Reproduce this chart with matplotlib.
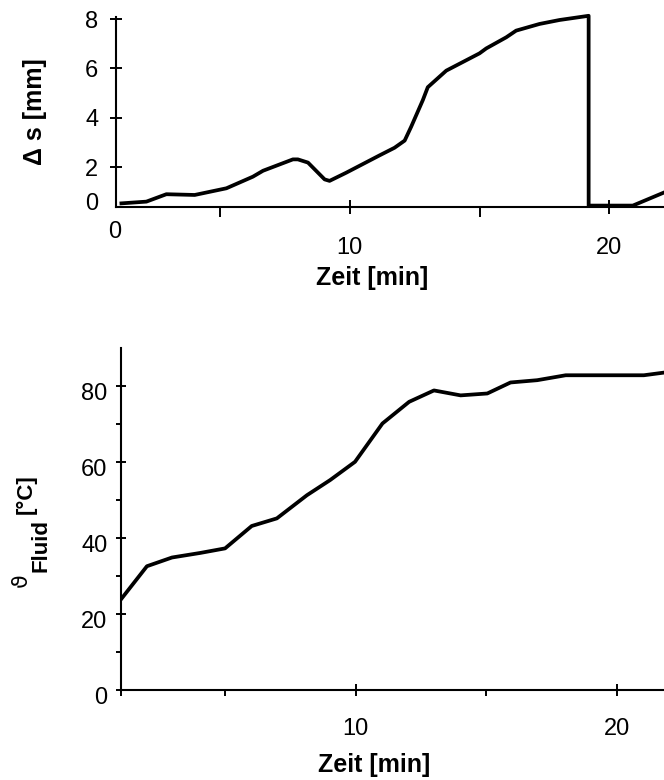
import matplotlib
matplotlib.use("Agg")
import matplotlib.pyplot as plt
import matplotlib.transforms as mtransforms

# ---------------- data ----------------
# top chart: displacement over time
t_top = [1.22, 2.18, 2.95, 4.04, 5.26, 6.28, 6.67, 7.82, 8.01, 8.40, 9.04, 9.23,
         9.87, 11.15, 11.73, 12.12, 12.37, 12.82, 13.01, 13.72, 15.0, 15.26,
         16.03, 16.41, 17.31, 18.08, 19.2, 19.2, 20.9, 22.08]
ds_mm = [0.54, 0.61, 0.91, 0.88, 1.15, 1.62, 1.86, 2.32, 2.32, 2.19, 1.51, 1.45,
         1.78, 2.48, 2.79, 3.08, 3.64, 4.72, 5.24, 5.91, 6.61, 6.81,
         7.26, 7.53, 7.80, 7.96, 8.13, 0.45, 0.45, 0.97]

# bottom chart: fluid temperature over time
t_bot = [1.02, 2.01, 2.97, 4.05, 5.0, 6.02, 6.98, 8.13, 9.02, 9.97, 11.02, 12.04,
         12.99, 14.01, 15.03, 15.92, 16.94, 18.03, 19.05, 20.0, 21.02, 21.79]
temp_c = [23.9, 32.6, 34.9, 36.1, 37.3, 43.2, 45.2, 51.3, 55.3, 60.1, 70.2, 75.9,
          78.9, 77.6, 78.1, 81.0, 81.6, 82.9, 82.9, 82.9, 82.9, 83.6]

top_yticks = [2, 4, 6, 8]
top_xticks = [10, 20]
top_xminor = [5, 15]
bot_yticks = [0, 20, 40, 60, 80]
bot_yminor = [10, 30, 50, 70]
bot_xticks = [10, 20]
bot_xminor = [5, 15]

xlabel = "Zeit [min]"
top_ylabel = "\u0394 s [mm]"

# ---------------- figure ----------------
W, H = 664, 780
fig = plt.figure(figsize=(W / 100, H / 100), dpi=100)
plt.rcParams['font.family'] = ['Liberation Sans', 'DejaVu Sans']

def fx(px):
    return px / W

def fy(py):
    return 1 - py / H

TICK_FS = 17
LAB_FS = 18
LW_AX = 1.5

# top axes: x 115.7 -> 664 ; y 206.7 (bottom) -> 15.3 (top)
ax1 = fig.add_axes([fx(115.7), fy(206.7), fx(664) - fx(115.7), fy(15.3) - fy(206.7)])
ax1.plot(t_top, ds_mm, color='black', lw=2.7, solid_joinstyle='round', clip_on=False)
ax1.set_xlim(1.0, 22.1)
ax1.set_ylim(0.405, 8.15)
ax1.spines['top'].set_visible(False)
ax1.spines['right'].set_visible(False)
ax1.spines['left'].set_linewidth(LW_AX)
ax1.spines['bottom'].set_linewidth(LW_AX)
ax1.spines['left'].set_bounds(0.405, 8.07)
ax1.set_yticks(top_yticks)
ax1.set_yticklabels([str(v) for v in top_yticks])
ax1.set_xticks(top_xticks)
ax1.set_xticklabels([str(v) for v in top_xticks])
ax1.set_xticks(top_xminor, minor=True)
ax1.tick_params(axis='y', which='major', direction='inout', length=8.6, width=1.4,
                labelsize=TICK_FS, pad=8.2)
ax1.tick_params(axis='x', which='major', direction='inout', length=10, width=1.4,
                labelsize=TICK_FS, pad=16.5)
ax1.tick_params(axis='x', which='minor', direction='out', length=7, width=1.4)
fig.text(fx(115), fy(231.5), "0", fontsize=TICK_FS, ha='center', va='center')
fig.text(fx(92), fy(204), "0", fontsize=TICK_FS, ha='center', va='center')
fig.text(fx(372), fy(277.5), xlabel, fontsize=LAB_FS, fontweight='bold',
         ha='center', va='center')
fig.text(fx(35), fy(112), top_ylabel, fontsize=LAB_FS, fontweight='bold',
         rotation=90, ha='center', va='center')

# bottom axes: x 121 -> 664 ; y 690 (bottom) -> 348.3 (top)
ax2 = fig.add_axes([fx(121.3), fy(690), fx(664) - fx(121.3), fy(348.3) - fy(690)])
ax2.plot(t_bot, temp_c, color='black', lw=2.7, solid_joinstyle='round')
ax2.set_xlim(1.03, 21.79)
ax2.set_ylim(0, 90)
ax2.spines['top'].set_visible(False)
ax2.spines['right'].set_visible(False)
ax2.spines['left'].set_linewidth(LW_AX)
ax2.spines['bottom'].set_linewidth(LW_AX)
ax2.set_yticks(bot_yticks)
ax2.set_yticklabels([str(v) for v in bot_yticks])
ax2.set_yticks(bot_yminor, minor=True)
ax2.set_xticks(bot_xticks)
ax2.set_xticklabels([str(v) for v in bot_xticks])
ax2.set_xticks([1.03] + bot_xminor, minor=True)
ax2.tick_params(axis='y', which='major', direction='inout', length=7.2, width=1.4,
                labelsize=TICK_FS, pad=6.5)
ax2.tick_params(axis='y', which='minor', direction='out', length=3.6, width=1.4)
ax2.tick_params(axis='x', which='major', direction='inout', length=8.6, width=1.4,
                labelsize=TICK_FS, pad=16)
ax2.tick_params(axis='x', which='minor', direction='out', length=4.3, width=1.4)
shift = mtransforms.ScaledTranslation(0, -5 / 100, fig.dpi_scale_trans)
for lab in ax2.get_yticklabels():
    lab.set_transform(lab.get_transform() + shift)

fig.text(fx(374.5), fy(765), xlabel, fontsize=LAB_FS, fontweight='bold',
         ha='center', va='center')
# composite y label: theta, subscript "Fluid", "[°C]"
fig.text(fx(21), fy(580.5), "\u03d1", fontsize=16, family=['DejaVu Sans'],
         rotation=90, ha='center', va='center')
fig.text(fx(41.5), fy(546), "Fluid", fontsize=16, fontweight='bold',
         rotation=90, ha='center', va='center')
fig.text(fx(26.5), fy(494), "[\u00b0C]", fontsize=16, fontweight='bold',
         rotation=90, ha='center', va='center')

fig.savefig("out.png", dpi=100)
